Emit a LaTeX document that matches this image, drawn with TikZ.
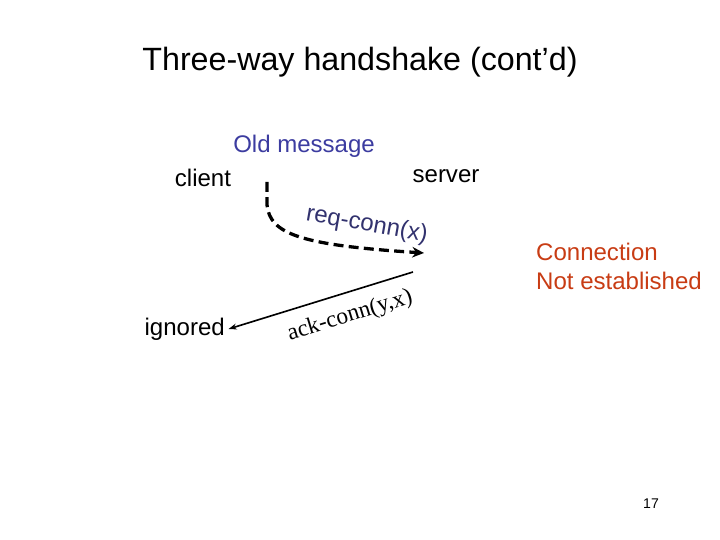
\documentclass[tikz,border=0pt]{standalone}
\usepackage{fontspec}
\setmainfont{Liberation Sans}
\newfontfamily\timesfont{Liberation Serif}
\usetikzlibrary{arrows.meta}
\definecolor{oldblue}{RGB}{60,60,160}
\definecolor{reqblue}{RGB}{50,50,110}
\definecolor{failred}{RGB}{200,60,20}
\begin{document}
\begin{tikzpicture}[x=0.03cm,y=-0.03cm,>={Stealth[length=7pt,width=5pt]},
  lbl/.style={inner sep=0pt,font=\fontsize{20.5}{24}\selectfont}]
\useasboundingbox (0,0) rectangle (720,540);
\node[inner sep=0pt,font=\fontsize{27.5}{32}\selectfont] (title) at (360,62){Three-way handshake (cont'd)};
\node[lbl,text=oldblue] (old) at (304,146){Old message};
\node[lbl] (client) at (203,178){client};
\node[lbl] (server) at (446,176){server};
\node[lbl,text=reqblue,rotate=-10] (req) at (367,225){req-conn(x)};
\node[lbl,anchor=east] (ignored) at (225,329){ignored};
\node[lbl,text=failred,align=left,anchor=north west,font=\fontsize{20.5}{24.5}\selectfont] (fail) at (536,243){Connection\\Not established};
\node[lbl,font=\timesfont\fontsize{20}{24}\selectfont,rotate=17] (ack) at (350,316){ack-conn(y,x)};
\node[inner sep=0pt,font=\fontsize{12}{14}\selectfont] (page) at (651,504){17};
% old message in transit
\coordinate (src) at (267,182);
\coordinate (dst) at (424,253);
\draw[-{Stealth[length=10pt,width=9pt]},line width=2.8pt,dash pattern=on 8.5pt off 4.5pt] (src) -- (267,205) .. controls (270,234) and (300,245) .. (dst);
% reply from server
\coordinate (srv) at (413,272);
\draw[->,line width=1.4pt] (srv) -- ([xshift=3pt]ignored.east);
\end{tikzpicture}
\end{document}
